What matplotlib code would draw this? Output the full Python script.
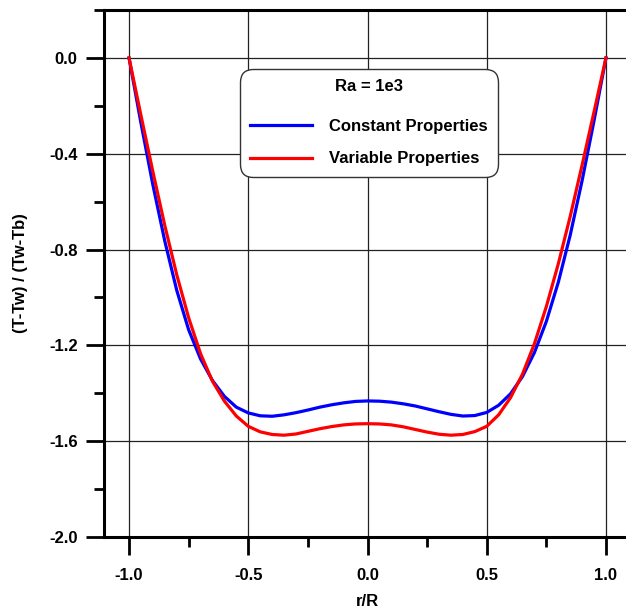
import matplotlib
matplotlib.use("Agg")
import matplotlib.pyplot as plt
from matplotlib.ticker import MultipleLocator, FormatStrFormatter

plt.rcParams['font.family'] = ['Liberation Sans', 'DejaVu Sans']
plt.rcParams['font.weight'] = 'bold'

r_R = [-1.0, -0.95, -0.9, -0.85, -0.8, -0.75, -0.7, -0.65, -0.6, -0.55, -0.5,
       -0.45, -0.4, -0.35, -0.3, -0.25, -0.2, -0.15, -0.1, -0.05, 0.0,
       0.05, 0.1, 0.15, 0.2, 0.25, 0.3, 0.35, 0.4, 0.45, 0.5,
       0.55, 0.6, 0.65, 0.7, 0.75, 0.8, 0.85, 0.9, 0.95, 1.0]

constant_props = [0.0, -0.272, -0.53, -0.765, -0.97, -1.135, -1.257, -1.347, -1.413, -1.458, -1.482,
                  -1.494, -1.496, -1.490, -1.481, -1.470, -1.458, -1.448, -1.440, -1.434, -1.432,
                  -1.433, -1.437, -1.444, -1.453, -1.465, -1.477, -1.488, -1.495, -1.493, -1.480,
                  -1.450, -1.402, -1.330, -1.230, -1.100, -0.937, -0.740, -0.512, -0.262, 0.0]

variable_props = [0.0, -0.24, -0.475, -0.70, -0.905, -1.085, -1.235, -1.35, -1.433, -1.495, -1.538,
                  -1.561, -1.572, -1.575, -1.570, -1.559, -1.548, -1.539, -1.532, -1.528, -1.527,
                  -1.528, -1.532, -1.540, -1.551, -1.562, -1.571, -1.575, -1.572, -1.560, -1.538,
                  -1.490, -1.418, -1.320, -1.193, -1.038, -0.860, -0.662, -0.447, -0.225, 0.0]

series_labels = ['Constant Properties', 'Variable Properties']
legend_title = 'Ra = 1e3'

W, H = 626, 612
fig = plt.figure(figsize=(W / 100, H / 100), dpi=100)
ax = fig.add_axes([104 / W, 1 - 537 / H, (631 - 104) / W, (537 - 10) / H])

ax.plot(r_R, constant_props, color='#0000ff', lw=2.3, label=series_labels[0], zorder=3)
ax.plot(r_R, variable_props, color='#ff0000', lw=2.3, label=series_labels[1], zorder=4)

ax.set_xlim(-1.105, 1.105)
ax.set_ylim(-2.0, 0.2)

ax.xaxis.set_major_locator(MultipleLocator(0.5))
ax.xaxis.set_minor_locator(MultipleLocator(0.25))
ax.yaxis.set_major_locator(MultipleLocator(0.4))
ax.yaxis.set_minor_locator(MultipleLocator(0.2))
ax.xaxis.set_major_formatter(FormatStrFormatter('%.1f'))
ax.yaxis.set_major_formatter(FormatStrFormatter('%.1f'))

ax.grid(True, which='major', color='#222222', lw=0.9, zorder=1)
ax.set_axisbelow(True)

for s in ['left', 'bottom', 'top']:
    ax.spines[s].set_linewidth(2.2)
ax.spines['right'].set_visible(False)

ax.tick_params(axis='both', which='major', direction='out', length=13, width=2.0,
               labelsize=12, pad=6)
ax.tick_params(axis='both', which='minor', direction='out', length=7, width=2.0)
ax.tick_params(axis='x', which='major', pad=9)
for lab in ax.get_xticklabels() + ax.get_yticklabels():
    lab.set_fontweight('bold')

ax.set_xlabel('r/R', fontsize=12, fontweight='bold', labelpad=8)
ax.set_ylabel('(T-Tw) / (Tw-Tb)', fontsize=12, fontweight='bold', labelpad=15)

leg = ax.legend(loc='upper center', bbox_to_anchor=((369 - 104) / 527, (537 - 69) / 527),
                borderaxespad=0,
                title=legend_title, fontsize=12, title_fontproperties={'weight': 'bold', 'size': 12},
                handlelength=3.7, handletextpad=1.05, labelspacing=1.05,
                borderpad=0.6, fancybox=True, framealpha=1, edgecolor='#333333')
leg.get_frame().set_linewidth(1.0)
leg.get_frame().set_boxstyle('round,pad=0,rounding_size=0.75')
for t in leg.get_texts():
    t.set_fontweight('bold')
leg._legend_box.sep = 18

fig.savefig('out.png', dpi=100)
